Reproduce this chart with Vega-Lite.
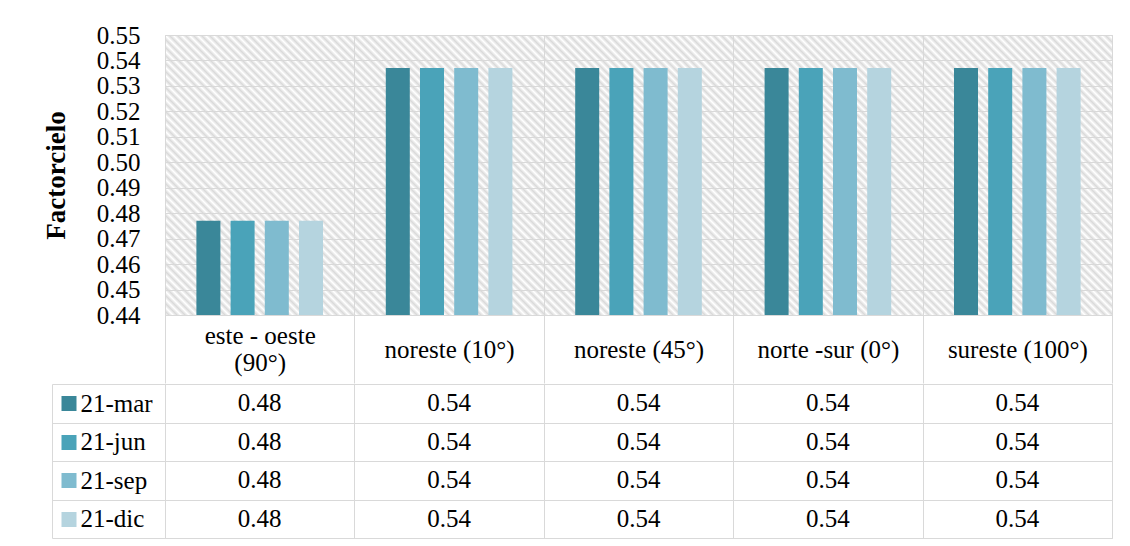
{
  "$schema": "https://vega.github.io/schema/vega-lite/v6.json",
  "background": "white",
  "padding": {"left": 41, "top": 22, "right": 5, "bottom": 0},
  "spacing": -14,
  "datasets": {
    "d": [
      {"orient": "este - oeste (90°)", "serie": "21-mar", "valor": 0.477},
      {"orient": "este - oeste (90°)", "serie": "21-jun", "valor": 0.477},
      {"orient": "este - oeste (90°)", "serie": "21-sep", "valor": 0.477},
      {"orient": "este - oeste (90°)", "serie": "21-dic", "valor": 0.477},
      {"orient": "noreste (10°)", "serie": "21-mar", "valor": 0.537},
      {"orient": "noreste (10°)", "serie": "21-jun", "valor": 0.537},
      {"orient": "noreste (10°)", "serie": "21-sep", "valor": 0.537},
      {"orient": "noreste (10°)", "serie": "21-dic", "valor": 0.537},
      {"orient": "noreste (45°)", "serie": "21-mar", "valor": 0.537},
      {"orient": "noreste (45°)", "serie": "21-jun", "valor": 0.537},
      {"orient": "noreste (45°)", "serie": "21-sep", "valor": 0.537},
      {"orient": "noreste (45°)", "serie": "21-dic", "valor": 0.537},
      {"orient": "norte -sur (0°)", "serie": "21-mar", "valor": 0.537},
      {"orient": "norte -sur (0°)", "serie": "21-jun", "valor": 0.537},
      {"orient": "norte -sur (0°)", "serie": "21-sep", "valor": 0.537},
      {"orient": "norte -sur (0°)", "serie": "21-dic", "valor": 0.537},
      {"orient": "sureste (100°)", "serie": "21-mar", "valor": 0.537},
      {"orient": "sureste (100°)", "serie": "21-jun", "valor": 0.537},
      {"orient": "sureste (100°)", "serie": "21-sep", "valor": 0.537},
      {"orient": "sureste (100°)", "serie": "21-dic", "valor": 0.537}
    ]
  },
  "config": {
    "font": "Liberation Serif",
    "view": {"stroke": "#d9d9d9", "strokeWidth": 1},
    "axis": {"labelFont": "Liberation Serif", "labelFontWeight": "normal", "labelColor": "#000000", "titleFont": "Liberation Serif", "titleColor": "#000000", "gridColor": "#d9d9d9", "gridWidth": 1}
  },
  "vconcat": [
    {
      "width": 947,
      "height": 280,
      "data": {"name": "d"},
      "view": {"stroke": "#d9d9d9", "fill": {"gradient": "linear", "x1": 0, "y1": 1, "x2": 1.1915, "y2": 0.6477, "stops": [
{"offset":0,"color":"#fff"},{"offset":0.00326,"color":"#dadada"},{"offset":0.00652,"color":"#fff"},{"offset":0.00978,"color":"#dadada"},{"offset":0.01304,"color":"#fff"},{"offset":0.0163,"color":"#dadada"},{"offset":0.01956,"color":"#fff"},{"offset":0.02282,"color":"#dadada"},{"offset":0.02608,"color":"#fff"},{"offset":0.02934,"color":"#dadada"},
{"offset":0.0326,"color":"#fff"},{"offset":0.03586,"color":"#dadada"},{"offset":0.03912,"color":"#fff"},{"offset":0.04238,"color":"#dadada"},{"offset":0.04564,"color":"#fff"},{"offset":0.0489,"color":"#dadada"},{"offset":0.05216,"color":"#fff"},{"offset":0.05542,"color":"#dadada"},{"offset":0.05868,"color":"#fff"},{"offset":0.06194,"color":"#dadada"},
{"offset":0.0652,"color":"#fff"},{"offset":0.06846,"color":"#dadada"},{"offset":0.07172,"color":"#fff"},{"offset":0.07498,"color":"#dadada"},{"offset":0.07824,"color":"#fff"},{"offset":0.0815,"color":"#dadada"},{"offset":0.08476,"color":"#fff"},{"offset":0.08802,"color":"#dadada"},{"offset":0.09128,"color":"#fff"},{"offset":0.09454,"color":"#dadada"},
{"offset":0.0978,"color":"#fff"},{"offset":0.10106,"color":"#dadada"},{"offset":0.10432,"color":"#fff"},{"offset":0.10758,"color":"#dadada"},{"offset":0.11084,"color":"#fff"},{"offset":0.1141,"color":"#dadada"},{"offset":0.11736,"color":"#fff"},{"offset":0.12062,"color":"#dadada"},{"offset":0.12388,"color":"#fff"},{"offset":0.12714,"color":"#dadada"},
{"offset":0.1304,"color":"#fff"},{"offset":0.13366,"color":"#dadada"},{"offset":0.13692,"color":"#fff"},{"offset":0.14018,"color":"#dadada"},{"offset":0.14344,"color":"#fff"},{"offset":0.1467,"color":"#dadada"},{"offset":0.14996,"color":"#fff"},{"offset":0.15322,"color":"#dadada"},{"offset":0.15648,"color":"#fff"},{"offset":0.15974,"color":"#dadada"},
{"offset":0.163,"color":"#fff"},{"offset":0.16626,"color":"#dadada"},{"offset":0.16952,"color":"#fff"},{"offset":0.17278,"color":"#dadada"},{"offset":0.17604,"color":"#fff"},{"offset":0.1793,"color":"#dadada"},{"offset":0.18256,"color":"#fff"},{"offset":0.18582,"color":"#dadada"},{"offset":0.18908,"color":"#fff"},{"offset":0.19234,"color":"#dadada"},
{"offset":0.1956,"color":"#fff"},{"offset":0.19886,"color":"#dadada"},{"offset":0.20212,"color":"#fff"},{"offset":0.20538,"color":"#dadada"},{"offset":0.20864,"color":"#fff"},{"offset":0.2119,"color":"#dadada"},{"offset":0.21516,"color":"#fff"},{"offset":0.21842,"color":"#dadada"},{"offset":0.22168,"color":"#fff"},{"offset":0.22494,"color":"#dadada"},
{"offset":0.2282,"color":"#fff"},{"offset":0.23146,"color":"#dadada"},{"offset":0.23472,"color":"#fff"},{"offset":0.23798,"color":"#dadada"},{"offset":0.24124,"color":"#fff"},{"offset":0.2445,"color":"#dadada"},{"offset":0.24776,"color":"#fff"},{"offset":0.25102,"color":"#dadada"},{"offset":0.25428,"color":"#fff"},{"offset":0.25754,"color":"#dadada"},
{"offset":0.2608,"color":"#fff"},{"offset":0.26406,"color":"#dadada"},{"offset":0.26732,"color":"#fff"},{"offset":0.27058,"color":"#dadada"},{"offset":0.27384,"color":"#fff"},{"offset":0.2771,"color":"#dadada"},{"offset":0.28036,"color":"#fff"},{"offset":0.28362,"color":"#dadada"},{"offset":0.28688,"color":"#fff"},{"offset":0.29014,"color":"#dadada"},
{"offset":0.2934,"color":"#fff"},{"offset":0.29666,"color":"#dadada"},{"offset":0.29992,"color":"#fff"},{"offset":0.30318,"color":"#dadada"},{"offset":0.30644,"color":"#fff"},{"offset":0.3097,"color":"#dadada"},{"offset":0.31296,"color":"#fff"},{"offset":0.31622,"color":"#dadada"},{"offset":0.31948,"color":"#fff"},{"offset":0.32274,"color":"#dadada"},
{"offset":0.326,"color":"#fff"},{"offset":0.32926,"color":"#dadada"},{"offset":0.33252,"color":"#fff"},{"offset":0.33578,"color":"#dadada"},{"offset":0.33904,"color":"#fff"},{"offset":0.3423,"color":"#dadada"},{"offset":0.34556,"color":"#fff"},{"offset":0.34882,"color":"#dadada"},{"offset":0.35208,"color":"#fff"},{"offset":0.35534,"color":"#dadada"},
{"offset":0.3586,"color":"#fff"},{"offset":0.36186,"color":"#dadada"},{"offset":0.36512,"color":"#fff"},{"offset":0.36838,"color":"#dadada"},{"offset":0.37164,"color":"#fff"},{"offset":0.3749,"color":"#dadada"},{"offset":0.37816,"color":"#fff"},{"offset":0.38142,"color":"#dadada"},{"offset":0.38468,"color":"#fff"},{"offset":0.38794,"color":"#dadada"},
{"offset":0.3912,"color":"#fff"},{"offset":0.39446,"color":"#dadada"},{"offset":0.39772,"color":"#fff"},{"offset":0.40098,"color":"#dadada"},{"offset":0.40424,"color":"#fff"},{"offset":0.4075,"color":"#dadada"},{"offset":0.41076,"color":"#fff"},{"offset":0.41402,"color":"#dadada"},{"offset":0.41728,"color":"#fff"},{"offset":0.42054,"color":"#dadada"},
{"offset":0.4238,"color":"#fff"},{"offset":0.42706,"color":"#dadada"},{"offset":0.43032,"color":"#fff"},{"offset":0.43358,"color":"#dadada"},{"offset":0.43684,"color":"#fff"},{"offset":0.4401,"color":"#dadada"},{"offset":0.44336,"color":"#fff"},{"offset":0.44662,"color":"#dadada"},{"offset":0.44988,"color":"#fff"},{"offset":0.45314,"color":"#dadada"},
{"offset":0.4564,"color":"#fff"},{"offset":0.45966,"color":"#dadada"},{"offset":0.46292,"color":"#fff"},{"offset":0.46618,"color":"#dadada"},{"offset":0.46944,"color":"#fff"},{"offset":0.4727,"color":"#dadada"},{"offset":0.47596,"color":"#fff"},{"offset":0.47922,"color":"#dadada"},{"offset":0.48248,"color":"#fff"},{"offset":0.48574,"color":"#dadada"},
{"offset":0.489,"color":"#fff"},{"offset":0.49226,"color":"#dadada"},{"offset":0.49552,"color":"#fff"},{"offset":0.49878,"color":"#dadada"},{"offset":0.50204,"color":"#fff"},{"offset":0.5053,"color":"#dadada"},{"offset":0.50856,"color":"#fff"},{"offset":0.51182,"color":"#dadada"},{"offset":0.51508,"color":"#fff"},{"offset":0.51834,"color":"#dadada"},
{"offset":0.5216,"color":"#fff"},{"offset":0.52486,"color":"#dadada"},{"offset":0.52812,"color":"#fff"},{"offset":0.53138,"color":"#dadada"},{"offset":0.53464,"color":"#fff"},{"offset":0.5379,"color":"#dadada"},{"offset":0.54116,"color":"#fff"},{"offset":0.54442,"color":"#dadada"},{"offset":0.54768,"color":"#fff"},{"offset":0.55094,"color":"#dadada"},
{"offset":0.5542,"color":"#fff"},{"offset":0.55746,"color":"#dadada"},{"offset":0.56072,"color":"#fff"},{"offset":0.56398,"color":"#dadada"},{"offset":0.56724,"color":"#fff"},{"offset":0.5705,"color":"#dadada"},{"offset":0.57376,"color":"#fff"},{"offset":0.57702,"color":"#dadada"},{"offset":0.58028,"color":"#fff"},{"offset":0.58354,"color":"#dadada"},
{"offset":0.5868,"color":"#fff"},{"offset":0.59006,"color":"#dadada"},{"offset":0.59332,"color":"#fff"},{"offset":0.59658,"color":"#dadada"},{"offset":0.59984,"color":"#fff"},{"offset":0.6031,"color":"#dadada"},{"offset":0.60636,"color":"#fff"},{"offset":0.60962,"color":"#dadada"},{"offset":0.61288,"color":"#fff"},{"offset":0.61614,"color":"#dadada"},
{"offset":0.6194,"color":"#fff"},{"offset":0.62266,"color":"#dadada"},{"offset":0.62592,"color":"#fff"},{"offset":0.62918,"color":"#dadada"},{"offset":0.63244,"color":"#fff"},{"offset":0.6357,"color":"#dadada"},{"offset":0.63896,"color":"#fff"},{"offset":0.64222,"color":"#dadada"},{"offset":0.64548,"color":"#fff"},{"offset":0.64874,"color":"#dadada"},
{"offset":0.652,"color":"#fff"},{"offset":0.65526,"color":"#dadada"},{"offset":0.65852,"color":"#fff"},{"offset":0.66178,"color":"#dadada"},{"offset":0.66504,"color":"#fff"},{"offset":0.6683,"color":"#dadada"},{"offset":0.67156,"color":"#fff"},{"offset":0.67482,"color":"#dadada"},{"offset":0.67808,"color":"#fff"},{"offset":0.68134,"color":"#dadada"},
{"offset":0.6846,"color":"#fff"},{"offset":0.68786,"color":"#dadada"},{"offset":0.69112,"color":"#fff"},{"offset":0.69438,"color":"#dadada"},{"offset":0.69764,"color":"#fff"},{"offset":0.7009,"color":"#dadada"},{"offset":0.70416,"color":"#fff"},{"offset":0.70742,"color":"#dadada"},{"offset":0.71068,"color":"#fff"},{"offset":0.71394,"color":"#dadada"},
{"offset":0.7172,"color":"#fff"},{"offset":0.72046,"color":"#dadada"},{"offset":0.72372,"color":"#fff"},{"offset":0.72698,"color":"#dadada"},{"offset":0.73024,"color":"#fff"},{"offset":0.7335,"color":"#dadada"},{"offset":0.73676,"color":"#fff"},{"offset":0.74002,"color":"#dadada"},{"offset":0.74328,"color":"#fff"},{"offset":0.74654,"color":"#dadada"},
{"offset":0.7498,"color":"#fff"},{"offset":0.75306,"color":"#dadada"},{"offset":0.75632,"color":"#fff"},{"offset":0.75958,"color":"#dadada"},{"offset":0.76284,"color":"#fff"},{"offset":0.7661,"color":"#dadada"},{"offset":0.76936,"color":"#fff"},{"offset":0.77262,"color":"#dadada"},{"offset":0.77588,"color":"#fff"},{"offset":0.77914,"color":"#dadada"},
{"offset":0.7824,"color":"#fff"},{"offset":0.78566,"color":"#dadada"},{"offset":0.78892,"color":"#fff"},{"offset":0.79218,"color":"#dadada"},{"offset":0.79544,"color":"#fff"},{"offset":0.7987,"color":"#dadada"},{"offset":0.80196,"color":"#fff"},{"offset":0.80522,"color":"#dadada"},{"offset":0.80848,"color":"#fff"},{"offset":0.81174,"color":"#dadada"},
{"offset":0.815,"color":"#fff"},{"offset":0.81826,"color":"#dadada"},{"offset":0.82152,"color":"#fff"},{"offset":0.82478,"color":"#dadada"},{"offset":0.82804,"color":"#fff"},{"offset":0.8313,"color":"#dadada"},{"offset":0.83456,"color":"#fff"},{"offset":0.83782,"color":"#dadada"},{"offset":0.84108,"color":"#fff"},{"offset":0.84434,"color":"#dadada"},
{"offset":0.8476,"color":"#fff"},{"offset":0.85086,"color":"#dadada"},{"offset":0.85412,"color":"#fff"},{"offset":0.85738,"color":"#dadada"},{"offset":0.86064,"color":"#fff"},{"offset":0.8639,"color":"#dadada"},{"offset":0.86716,"color":"#fff"},{"offset":0.87042,"color":"#dadada"},{"offset":0.87368,"color":"#fff"},{"offset":0.87694,"color":"#dadada"},
{"offset":0.8802,"color":"#fff"},{"offset":0.88346,"color":"#dadada"},{"offset":0.88672,"color":"#fff"},{"offset":0.88998,"color":"#dadada"},{"offset":0.89324,"color":"#fff"},{"offset":0.8965,"color":"#dadada"},{"offset":0.89976,"color":"#fff"},{"offset":0.90302,"color":"#dadada"},{"offset":0.90628,"color":"#fff"},{"offset":0.90954,"color":"#dadada"},
{"offset":0.9128,"color":"#fff"},{"offset":0.91606,"color":"#dadada"},{"offset":0.91932,"color":"#fff"},{"offset":0.92258,"color":"#dadada"},{"offset":0.92584,"color":"#fff"},{"offset":0.9291,"color":"#dadada"},{"offset":0.93236,"color":"#fff"},{"offset":0.93562,"color":"#dadada"},{"offset":0.93888,"color":"#fff"},{"offset":0.94214,"color":"#dadada"},
{"offset":0.9454,"color":"#fff"},{"offset":0.94866,"color":"#dadada"},{"offset":0.95192,"color":"#fff"},{"offset":0.95518,"color":"#dadada"},{"offset":0.95844,"color":"#fff"},{"offset":0.9617,"color":"#dadada"},{"offset":0.96496,"color":"#fff"},{"offset":0.96822,"color":"#dadada"},{"offset":0.97148,"color":"#fff"},{"offset":0.97474,"color":"#dadada"},
{"offset":0.978,"color":"#fff"},{"offset":0.98126,"color":"#dadada"},{"offset":0.98452,"color":"#fff"},{"offset":0.98778,"color":"#dadada"},{"offset":0.99104,"color":"#fff"},{"offset":0.9943,"color":"#dadada"},{"offset":0.99756,"color":"#fff"},{"offset":1,"color":"#eeeeee"}
      ]}},
      "mark": {"type": "bar", "clip": true},
      "encoding": {
        "x": {
          "field": "orient", "type": "nominal", "sort": null,
          "scale": {"paddingInner": 0, "paddingOuter": 0},
          "axis": {
            "title": null, "labelAngle": 0, "labelLimit": 0, "domain": false,
            "ticks": true, "tickBand": "extent", "tickSize": 68, "tickColor": "#d9d9d9",
            "grid": true,
            "labelPadding": -34, "labelFontSize": 25, "labelLineHeight": 27,
            "labelBaseline": {"condition": {"test": "datum.value == 'este - oeste (90°)'", "value": "line-bottom"}, "value": "middle"},
            "labelExpr": "datum.value == 'este - oeste (90°)' ? ['este - oeste', '(90°)'] : datum.value"
          }
        },
        "xOffset": {
          "field": "serie", "type": "nominal", "sort": ["21-mar", "21-jun", "21-sep", "21-dic"],
          "scale": {"paddingInner": 0.298, "paddingOuter": 0.918}
        },
        "y": {
          "field": "valor", "type": "quantitative",
          "scale": {"domain": [0.44, 0.55], "nice": false, "zero": false},
          "axis": {
            "title": "Factorcielo", "titleFontWeight": "bold", "titleFontSize": 27, "titlePadding": 26,
            "values": [0.44, 0.45, 0.46, 0.47, 0.48, 0.49, 0.5, 0.51, 0.52, 0.53, 0.54, 0.55],
            "format": ".2f", "labelFontSize": 25, "labelPadding": 25, "ticks": false, "domain": false,
            "grid": true, "labelFlush": false, "labelOverlap": false
          }
        },
        "color": {
          "field": "serie", "type": "nominal",
          "scale": {"domain": ["21-mar", "21-jun", "21-sep", "21-dic"], "range": ["#3a8799", "#4aa3b9", "#7fbbcf", "#b5d4df"]},
          "legend": null
        }
      }
    },
    {
      "width": 947,
      "height": 154,
      "data": {"name": "d"},
      "resolve": {"scale": {"y": "independent"}, "axis": {"y": "independent"}},
      "layer": [
        {
          "mark": {"type": "text", "fontSize": 25, "font": "Liberation Serif", "color": "#000000", "baseline": "middle"},
          "encoding": {
            "x": {
              "field": "orient", "type": "nominal", "sort": null,
              "scale": {"paddingInner": 0, "paddingOuter": 0},
              "axis": {"title": null, "labels": false, "ticks": false, "domain": false, "grid": true, "tickBand": "extent"}
            },
            "y": {
              "field": "serie", "type": "nominal", "sort": ["21-mar", "21-jun", "21-sep", "21-dic"],
              "scale": {"paddingInner": 0, "paddingOuter": 0},
              "axis": {
                "orient": "left", "title": null, "domain": false, "grid": true, "tickBand": "extent",
                "ticks": true, "tickSize": 113, "tickColor": "#d9d9d9",
                "labelAlign": "left", "labelBaseline": "middle", "labelPadding": -28, "labelFontSize": 25
              }
            },
            "text": {"field": "valor", "type": "quantitative", "format": ".2f"}
          }
        },
        {
          "mark": {"type": "text", "text": ""},
          "encoding": {
            "y": {
              "field": "serie", "type": "nominal", "sort": ["21-mar", "21-jun", "21-sep", "21-dic"],
              "scale": {"paddingInner": 0, "paddingOuter": 0},
              "axis": {
                "orient": "left", "title": null, "offset": 113, "labels": false, "grid": false,
                "domain": true, "domainColor": "#d9d9d9",
                "ticks": true, "tickSize": -24, "tickWidth": 15, "tickCap": "butt", "tickDash": [0, 9, 15, 100],
                "tickColor": {
                  "condition": [
                    {"test": "datum.value === '21-mar'", "value": "#3a8799"},
                    {"test": "datum.value === '21-jun'", "value": "#4aa3b9"},
                    {"test": "datum.value === '21-sep'", "value": "#7fbbcf"}
                  ],
                  "value": "#b5d4df"
                }
              }
            }
          }
        }
      ]
    }
  ]
}
